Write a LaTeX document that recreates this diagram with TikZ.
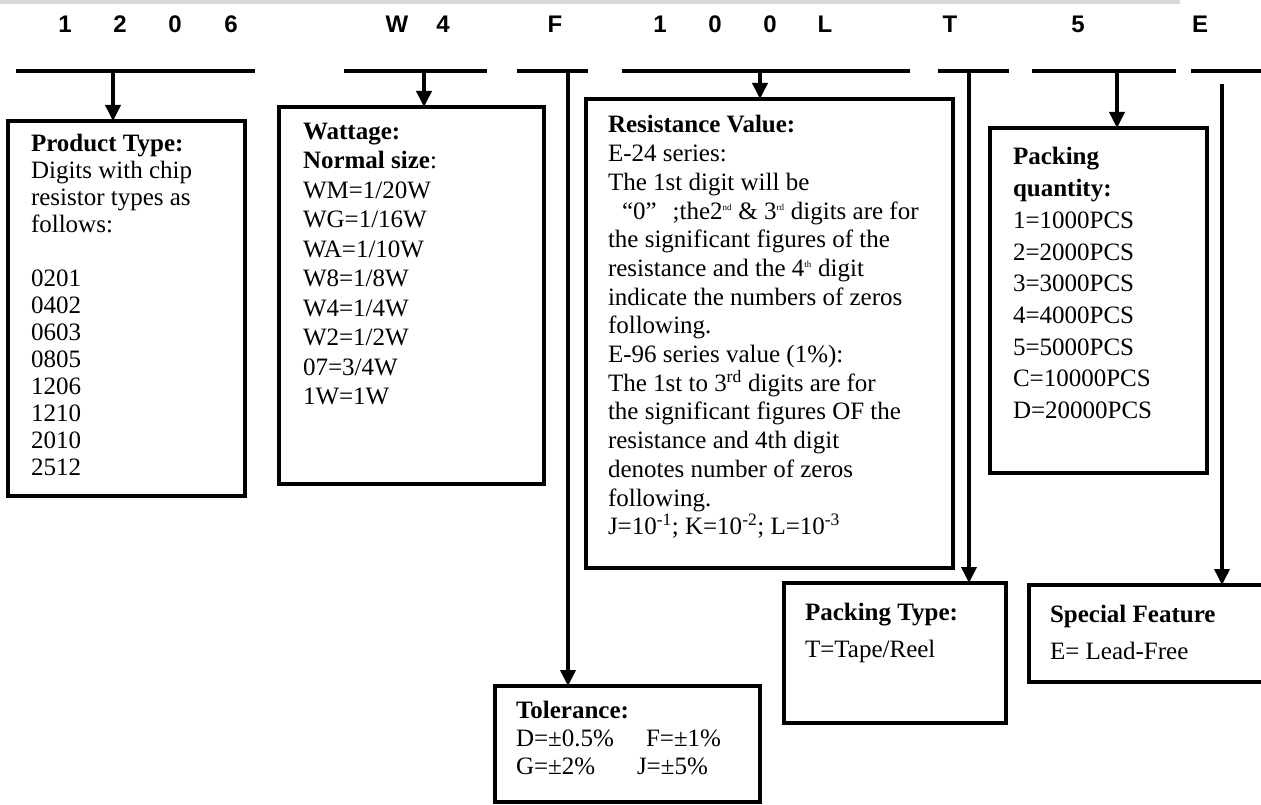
\documentclass[tikz,border=0pt]{standalone}
\usepackage{fontspec}
\setmainfont{Liberation Serif}
\newfontfamily\hdrfont{Liberation Sans}
\usetikzlibrary{arrows.meta}
\definecolor{bargray}{RGB}{217,217,217}
\newcommand{\tsup}[1]{\textsuperscript{\fontsize{9}{9}\selectfont #1}}
\begin{document}
\begin{tikzpicture}[x=1pt,y=-1pt,
  box/.style={draw, line width=3.6pt, rectangle, anchor=north west, inner sep=0pt, outer sep=0pt},
  txt/.style={anchor=north west, inner sep=0pt, outer sep=0pt, align=left},
  hdr/.style={anchor=base, inner sep=0pt, font=\hdrfont\bfseries\fontsize{24}{28}\selectfont},
  seg/.style={line width=3.6pt},
  conn/.style={line width=3.6pt, -{Triangle[length=16pt,width=15pt]}}
]
\useasboundingbox (0,0) rectangle (1261,805);
\fill[bargray] (0,0) rectangle (1180,4);

% header letters
\node[hdr] (h1) at (65,33) {1};
\node[hdr] (h2) at (120,33) {2};
\node[hdr] (h3) at (175,33) {0};
\node[hdr] (h4) at (231,33) {6};
\node[hdr] (h5) at (397,33) {W};
\node[hdr] (h6) at (443,33) {4};
\node[hdr] (h7) at (555,33) {F};
\node[hdr] (h8) at (660,33) {1};
\node[hdr] (h9) at (715,33) {0};
\node[hdr] (h10) at (770,33) {0};
\node[hdr] (h11) at (825,33) {L};
\node[hdr] (h12) at (950,33) {T};
\node[hdr] (h13) at (1078,33) {5};
\node[hdr] (h14) at (1200,33) {E};

% header segments
\coordinate (s1a) at (16,71);   \coordinate (s1b) at (255,71);
\coordinate (s2a) at (344,71);  \coordinate (s2b) at (487,71);
\coordinate (s3a) at (517,71);  \coordinate (s3b) at (588,71);
\coordinate (s4a) at (622,71);  \coordinate (s4b) at (910,71);
\coordinate (s5a) at (938,71);  \coordinate (s5b) at (1009,71);
\coordinate (s6a) at (1032,71); \coordinate (s6b) at (1176,71);
\coordinate (s7a) at (1191,71); \coordinate (s7b) at (1265,71);
\foreach \i in {1,...,7} {\draw[seg] (s\i a) -- (s\i b);}

% boxes
\node[box, minimum width=237pt, minimum height=375pt] (pbox) at (8,121) {};
\node[box, minimum width=265pt, minimum height=377pt] (wbox) at (279,107) {};
\node[box, minimum width=367pt, minimum height=469pt] (rbox) at (586,99) {};
\node[box, minimum width=217pt, minimum height=345pt] (qbox) at (990,128) {};
\node[box, minimum width=222pt, minimum height=140pt] (tbox) at (784,583) {};
\node[box, minimum width=240pt, minimum height=97pt] (sbox) at (1029,585) {};
\node[box, minimum width=265pt, minimum height=116pt] (obox) at (495,686) {};

% connectors
\coordinate (a1) at (113,71);
\coordinate (a2) at (424,71);
\coordinate (a3) at (568,71);
\coordinate (a4) at (760,71);
\coordinate (a5) at (969,71);
\coordinate (a6) at (1117,71);
\coordinate (a7) at (1222,84);
\draw[conn] (a1) -- (a1 |- pbox.north);
\draw[conn] (a2) -- (a2 |- wbox.north);
\draw[conn] (a3) -- (a3 |- obox.north);
\draw[conn] (a4) -- (a4 |- rbox.north);
\draw[conn] (a5) -- (a5 |- tbox.north);
\draw[conn] (a6) -- (a6 |- qbox.north);
\draw[conn] (a7) -- (a7 |- sbox.north);

% texts
\node[txt, font=\fontsize{25}{27}\selectfont] (ptxt) at (31,132.1) {\strut\textbf{Product Type:}\\
Digits with chip\\ resistor types as\\ follows:\\ \mbox{}\\
0201\\ 0402\\ 0603\\ 0805\\ 1206\\ 1210\\ 2010\\ 2512};

\node[txt, font=\fontsize{25}{29.5}\selectfont] (wtxt) at (303,118.35) {\strut\textbf{Wattage:}\\
\textbf{Normal size}:\\ WM=1/20W\\ WG=1/16W\\ WA=1/10W\\ W8=1/8W\\ W4=1/4W\\ W2=1/2W\\ 07=3/4W\\ 1W=1W};

\node[txt, font=\fontsize{25}{28.7}\selectfont] (rtxt) at (608,112.9) {\strut\textbf{Resistance Value:}\\
E-24 series:\\
The 1st digit will be\\
\hspace*{14pt}“0”\hspace{16pt};the2\tsup{nd} \& 3\tsup{rd} digits are for\\
the significant figures of the\\
resistance and the 4\tsup{th} digit\\
indicate the numbers of zeros\\
following.\\
E-96 series value (1\%):\\
The 1st to 3\textsuperscript{rd} digits are for\\
the significant figures OF the\\
resistance and 4th digit\\
denotes number of zeros\\
following.\\
J=10\textsuperscript{-1}; K=10\textsuperscript{-2}; L=10\textsuperscript{-3}};

\node[txt, font=\fontsize{25}{31.7}\selectfont] (qtxt) at (1013,142.8) {\strut\textbf{Packing}\\
\textbf{quantity:}\\ 1=1000PCS\\ 2=2000PCS\\ 3=3000PCS\\ 4=4000PCS\\ 5=5000PCS\\ C=10000PCS\\ D=20000PCS};

\node[txt, font=\fontsize{25}{37}\selectfont] (ttxt) at (805,594.1) {\strut\textbf{Packing Type:}\\ T=Tape/Reel};

\node[txt, font=\fontsize{25}{37}\selectfont] (stxt) at (1050,596.1) {\strut\textbf{Special Feature}\\ E= Lead-Free};

\node[txt, font=\fontsize{25}{28}\selectfont] (otxt) at (516,698.4) {\strut\textbf{Tolerance:}\\
\makebox[130pt][l]{D=±0.5\%}F=±1\%\\
\makebox[121pt][l]{G=±2\%}J=±5\%};
\end{tikzpicture}
\end{document}
